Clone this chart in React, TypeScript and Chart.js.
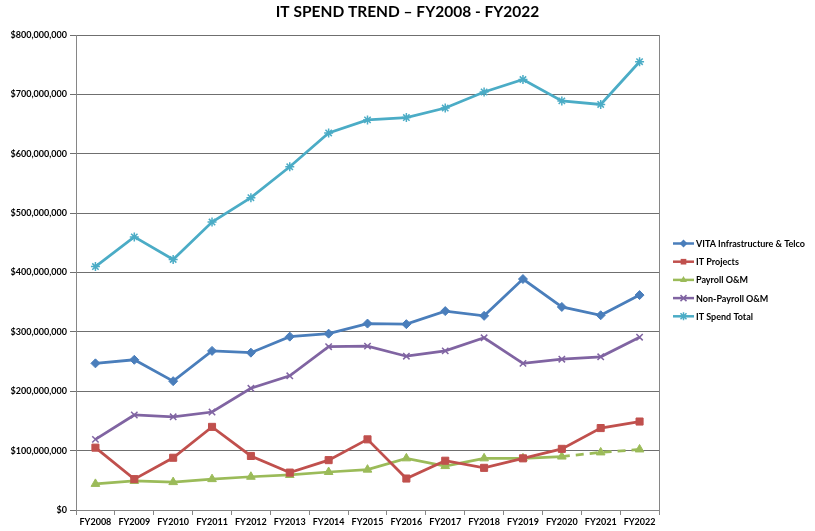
import React, { useEffect, useRef } from 'react';
import { Chart, registerables } from 'chart.js';

Chart.register(...registerables);

const categories = ['FY2008', 'FY2009', 'FY2010', 'FY2011', 'FY2012', 'FY2013', 'FY2014', 'FY2015', 'FY2016', 'FY2017', 'FY2018', 'FY2019', 'FY2020', 'FY2021', 'FY2022'];

const vitaInfra = [247000000, 253000000, 217000000, 268000000, 265000000, 292000000, 297000000, 314000000, 313000000, 335000000, 327000000, 389000000, 342000000, 328000000, 362000000];
const itProjects = [105000000, 52000000, 88000000, 140000000, 91000000, 63000000, 84000000, 119000000, 53000000, 83000000, 71000000, 87000000, 103000000, 138000000, 149000000];
const payrollOM = [44000000, 49000000, 47000000, 52000000, 56000000, 59000000, 64000000, 68000000, 87000000, 74000000, 87000000, 87000000, 90000000, 97000000, 102000000];
const nonPayrollOM = [119000000, 160000000, 157000000, 165000000, 205000000, 226000000, 275000000, 276000000, 259000000, 268000000, 290000000, 247000000, 254000000, 258000000, 291000000];
const itSpendTotal = [410000000, 460000000, 422000000, 485000000, 526000000, 578000000, 635000000, 657000000, 661000000, 677000000, 704000000, 725000000, 689000000, 683000000, 755000000];

const seriesNames = ['VITA Infrastructure & Telco', 'IT Projects', 'Payroll O&M', 'Non-Payroll O&M', 'IT Spend Total'];
const seriesColors = ['#4A7EBB', '#C0504D', '#9BBB59', '#8064A2', '#4BACC6'];
const seriesMarkers = ['rectRot', 'rect', 'triangle', 'crossRot', 'star'];
const payrollDashedFrom = 12; // FY2020 onward dashed

const yTickMax = 800000000;
const yTickStep = 100000000;

const FONT = 'Lato, "Open Sans", sans-serif';

function drawMarker(ctx: CanvasRenderingContext2D, style: string, x: number, y: number, r: number, color: string) {
  ctx.save();
  ctx.fillStyle = color;
  ctx.strokeStyle = color;
  ctx.lineWidth = 1.5;
  ctx.beginPath();
  if (style === 'rectRot') {
    ctx.moveTo(x, y - r);
    ctx.lineTo(x + r, y);
    ctx.lineTo(x, y + r);
    ctx.lineTo(x - r, y);
    ctx.closePath();
    ctx.fill();
  } else if (style === 'rect') {
    const s = r * Math.SQRT1_2;
    ctx.rect(x - s, y - s, 2 * s, 2 * s);
    ctx.fill();
  } else if (style === 'triangle') {
    ctx.moveTo(x, y - r);
    ctx.lineTo(x + r * 0.87, y + r * 0.5);
    ctx.lineTo(x - r * 0.87, y + r * 0.5);
    ctx.closePath();
    ctx.fill();
  } else if (style === 'crossRot') {
    const d = r * 0.75;
    ctx.moveTo(x - d, y - d); ctx.lineTo(x + d, y + d);
    ctx.moveTo(x + d, y - d); ctx.lineTo(x - d, y + d);
    ctx.stroke();
  } else {
    const d = r * 0.75;
    ctx.moveTo(x - d, y - d); ctx.lineTo(x + d, y + d);
    ctx.moveTo(x + d, y - d); ctx.lineTo(x - d, y + d);
    ctx.moveTo(x, y - r); ctx.lineTo(x, y + r);
    ctx.stroke();
  }
  ctx.restore();
}

const sideLegend = {
  id: 'sideLegend',
  afterDraw(chart: any) {
    const ctx: CanvasRenderingContext2D = chart.ctx;
    const x0 = chart.chartArea.right + 14;
    const top = 243.5;
    const step = 18.2;
    ctx.save();
    chart.data.datasets.forEach((ds: any, i: number) => {
      const y = top + i * step;
      ctx.strokeStyle = ds.borderColor;
      ctx.lineWidth = 2.5;
      ctx.beginPath();
      ctx.moveTo(x0, y);
      ctx.lineTo(x0 + 21, y);
      ctx.stroke();
      drawMarker(ctx, ds.pointStyle, x0 + 10.5, y, 4, ds.borderColor);
      ctx.fillStyle = '#000';
      ctx.font = 'bold 9px ' + FONT;
      ctx.textBaseline = 'middle';
      ctx.textAlign = 'left';
      ctx.fillText(ds.label, x0 + 23, y + 0.5);
    });
    ctx.restore();
  },
};

export default function App() {
  const ref = useRef<HTMLCanvasElement | null>(null);

  useEffect(() => {
    if (!ref.current) return;
    const seriesData = [vitaInfra, itProjects, payrollOM, nonPayrollOM, itSpendTotal];
    const radii = [4.5, 5, 5, 4.5, 4.5];
    const datasets = seriesData.map((d, i) => ({
      label: seriesNames[i],
      data: d,
      borderColor: seriesColors[i],
      backgroundColor: seriesColors[i],
      pointStyle: seriesMarkers[i],
      pointRadius: radii[i],
      pointHoverRadius: radii[i],
      pointBorderWidth: seriesMarkers[i] === 'crossRot' || seriesMarkers[i] === 'star' ? 1.5 : 1,
      pointBackgroundColor: seriesColors[i],
      pointBorderColor: seriesColors[i],
      borderWidth: 2.75,
      tension: 0,
      fill: false,
      segment: i === 2 ? {
        borderDash: (ctx: any) => (ctx.p0DataIndex >= payrollDashedFrom ? [8, 6] : undefined),
      } : undefined,
    }));

    const chart = new Chart(ref.current, {
      type: 'line',
      data: { labels: categories, datasets },
      options: {
        responsive: false,
        animation: false,
        layout: { padding: 0 },
        plugins: {
          legend: { display: false },
          tooltip: { enabled: false },
          title: {
            display: true,
            text: 'IT SPEND TREND \u2013 FY2008 - FY2022',
            color: '#000',
            font: { family: FONT, size: 15.5, weight: 'bold', lineHeight: 1.2 },
            padding: { top: 3, bottom: 13.4 },
          },
        },
        scales: {
          x: {
            type: 'category',
            offset: true,
            grid: { offset: true, drawOnChartArea: false, drawTicks: true, tickLength: 5, color: '#868686' },
            border: { display: true, color: '#868686', width: 1 },
            ticks: {
              color: '#000',
              font: { family: FONT, size: 9, weight: 'bold' },
              padding: 2,
              maxRotation: 0,
              autoSkip: false,
            },
            afterFit: (s: any) => { s.height = 21; },
          },
          y: {
            min: 0,
            max: yTickMax,
            grid: { color: '#6f6f6f', lineWidth: 1, drawTicks: true, tickLength: 6 },
            border: { display: true, color: '#868686', width: 1 },
            ticks: {
              stepSize: yTickStep,
              color: '#000',
              font: { family: FONT, size: 9, weight: 'bold' },
              padding: 3,
              callback: (v: any) => (Number(v) === 0 ? '$0' : '$' + Number(v).toLocaleString('en-US')),
            },
            afterFit: (s: any) => { s.width = 76; },
          },
          y2: {
            position: 'right',
            min: 0,
            max: yTickMax,
            grid: { drawOnChartArea: false, drawTicks: false },
            border: { display: true, color: '#868686', width: 1 },
            ticks: { display: false },
            afterFit: (s: any) => { s.width = 156; },
          },
        },
      },
      plugins: [sideLegend],
    } as any);

    return () => chart.destroy();
  }, []);

  return (
    <div style={{ position: 'fixed', left: 0, top: 0, width: 815, height: 531, background: '#fff' }}>
      <canvas ref={ref} width={815} height={531} style={{ display: 'block' }} />
    </div>
  );
}
